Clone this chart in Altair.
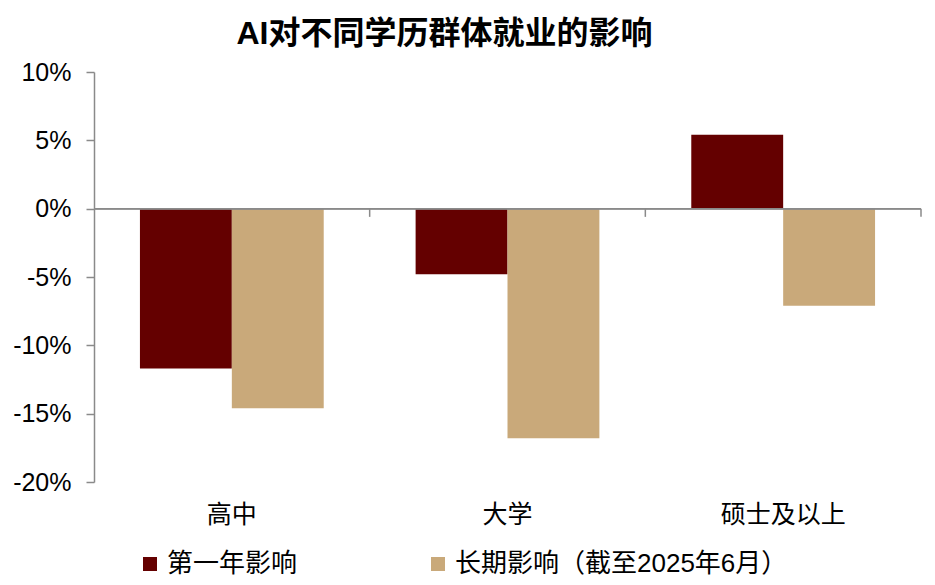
import altair as alt
import pandas as pd

categories = ["高中", "大学", "硕士及以上"]
series = ["第一年影响", "长期影响（截至2025年6月）"]
first_year = [-0.117, -0.048, 0.054]
long_term = [-0.146, -0.168, -0.071]
colors = ["#640000", "#C9A97A"]

rows = []
for c, a, b in zip(categories, first_year, long_term):
    rows.append({"cat": c, "series": series[0], "value": a})
    rows.append({"cat": c, "series": series[1], "value": b})
df = pd.DataFrame(rows)
cats_df = pd.DataFrame({"cat": categories})

FONT = "Liberation Sans, Arial, Noto Sans CJK SC"
GREY = "#8a8a8a"
W = 827

xscale = alt.Scale(domain=categories, paddingInner=1/3, paddingOuter=1/6)
yscale = alt.Scale(domain=[-0.2, 0.1], nice=False)

bars = alt.Chart(df).mark_bar().encode(
    x=alt.X("cat:N", scale=xscale, sort=categories, title=None,
            axis=alt.Axis(domain=False, ticks=False, tickSize=0, labelAngle=0,
                          labelFontSize=25, labelFont=FONT, labelColor="#000",
                          labelPadding=20)),
    xOffset=alt.XOffset("series:N", sort=series,
                        scale=alt.Scale(paddingInner=0, paddingOuter=0)),
    y=alt.Y("value:Q", scale=yscale, title=None,
            axis=alt.Axis(values=[-0.2, -0.15, -0.1, -0.05, 0, 0.05, 0.1],
                          format=".0%",
                          labelExpr="replace(datum.label, '\u2212', '-')",
                          grid=False, domainColor=GREY, domainWidth=1.5,
                          tickColor=GREY, tickWidth=1.5, tickSize=8,
                          labelPadding=15, labelFontSize=25, labelFont=FONT,
                          labelColor="#000")),
    color=alt.Color("series:N", sort=series,
                    scale=alt.Scale(domain=series, range=colors),
                    legend=alt.Legend(title=None, orient="none", direction="horizontal",
                                      legendX=43, legendY=479,
                                      symbolType="square", symbolSize=196,
                                      symbolStrokeWidth=0, labelFontSize=26,
                                      labelFont=FONT, labelColor="#000",
                                      labelOffset=4, labelLimit=400,
                                      columnPadding=127)),
)

zero = alt.Chart(cats_df).mark_rule(color=GREY, strokeWidth=1.5).encode(
    y=alt.datum(0, scale=yscale)
)

# boundary ticks: band end plus half of the inner gap
step = W / (3 - 1/3 + 2/6)
gap_half = step * (1/3) / 2
ticks = alt.Chart(cats_df).mark_rule(color=GREY, strokeWidth=1.5, xOffset=gap_half).encode(
    x=alt.X("cat:N", scale=xscale, sort=categories, bandPosition=1),
    y=alt.datum(0),
    y2=alt.datum(-0.006),
)

chart = alt.layer(bars, zero, ticks).properties(
    width=W,
    height=410,
    padding={"left": 4, "top": 10, "right": 5, "bottom": 5},
    title=alt.TitleParams("AI对不同学历群体就业的影响", font=FONT, fontSize=32,
                          fontWeight="bold", color="#000", anchor="middle",
                          frame="group", dx=-63, offset=9),
).configure_view(stroke=None)

chart.save("out.html", embed_options={"renderer": "svg", "actions": False})
